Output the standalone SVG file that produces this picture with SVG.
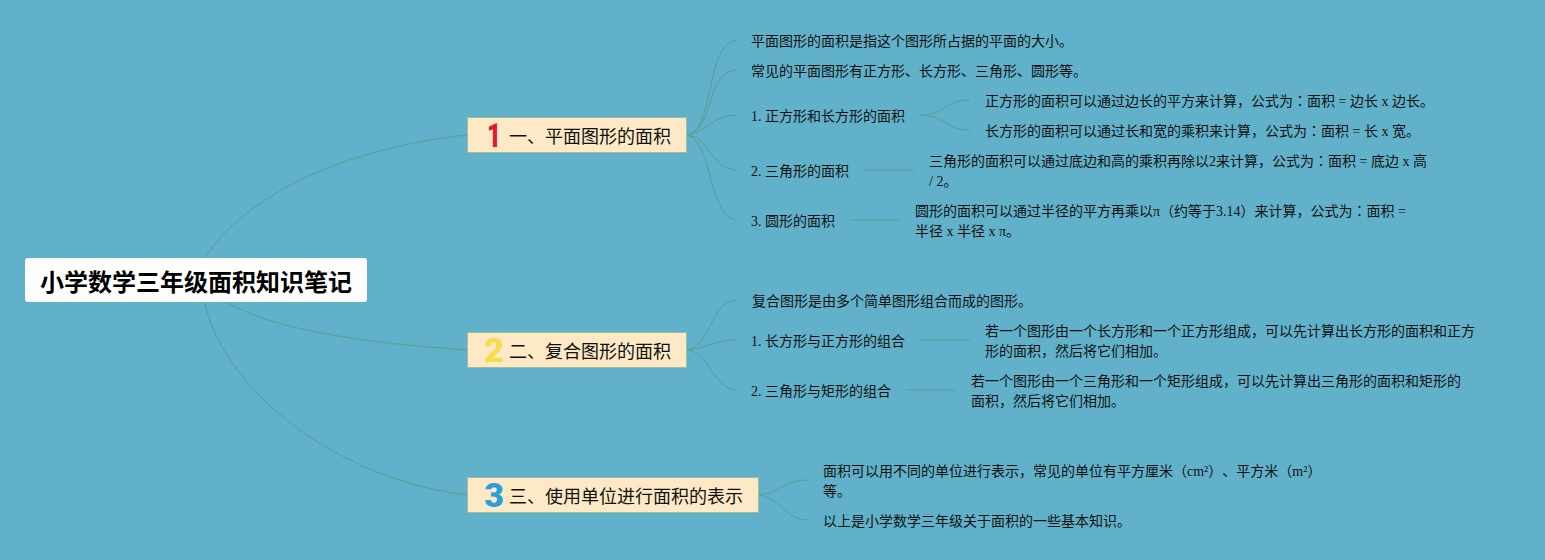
<svg xmlns="http://www.w3.org/2000/svg" width="1545" height="560" viewBox="0 0 1545 560">
<style>
text{font-family:"Liberation Serif","Noto Sans CJK SC",serif;font-size:14px;fill:#111;text-spacing-trim:space-all}
.k{font-family:"Noto Sans CJK TC",sans-serif}
.c path{fill:none;stroke:#5a9f92;stroke-width:1}
.t{fill:#fde9c5;stroke:#9dbd9c;stroke-width:1}
.tt{font-family:"Noto Sans CJK SC",sans-serif;font-size:18px;fill:#111}
.d{font-family:"Roboto",sans-serif;font-size:34px;font-weight:900;text-anchor:middle}
.root{font-family:"Noto Sans CJK SC",sans-serif;font-size:24px;font-weight:700;fill:#000}
</style>
<rect width="1545" height="560" fill="#60b1c9"/>
<g class="c" id="connectors">
<path d="M205 258C245 195 345 148 467 135"/>
<path d="M228 303C275 330 365 343 467 350"/>
<path d="M205 303C222 385 330 478 467 495"/>
<path d="M687 135C715 130 705 45 736 40"/>
<path d="M687 135C715 130 705 72 736 70"/>
<path d="M687 135C705 133 712 116 736 115"/>
<path d="M687 135C710 137 710 168 736 170"/>
<path d="M687 135C712 140 708 215 736 220"/>
<path d="M920 115C945 115 945 100 970 100"/>
<path d="M920 115C945 115 945 130 970 130"/>
<path d="M864 170H914"/>
<path d="M850 220H900"/>
<path d="M687 350C712 345 710 302 736 300"/>
<path d="M687 350C705 349 715 340 736 340"/>
<path d="M687 350C710 352 712 388 736 390"/>
<path d="M920 340H970"/>
<path d="M906 390H956"/>
<path d="M758 495C780 493 785 480 808 480"/>
<path d="M758 495C780 497 785 520 808 520"/>
</g>
<g id="root"><rect x="25" y="258" width="342" height="44" rx="3" fill="#fff"/><text class="root" x="40" y="291">小学数学三年级面积知识笔记</text></g>
<g id="t1"><rect class="t" x="467.500" y="117.500" width="219" height="35"/><text class="d" transform="translate(494 147) scale(.72 1)" style="fill:#e4182b">1</text><text class="tt" x="509" y="143">一、平面图形的面积</text></g>
<g id="t2"><rect class="t" x="467.500" y="332.500" width="219" height="35"/><text class="d" x="494" y="362" style="fill:#f5dc4b">2</text><text class="tt" x="509" y="358">二、复合图形的面积</text></g>
<g id="t3"><rect class="t" x="467.500" y="477.500" width="291" height="35"/><text class="d" x="494" y="507" style="fill:#2a9fdc">3</text><text class="tt" x="509" y="503">三、使用单位进行面积的表示</text></g>
<g id="n1"><text x="751" y="46">平面图形的面积是指这个图形所占据的平面的大小。</text></g>
<g id="n2"><text x="751" y="76">常见的平面图形有正方形、长方形、三角形、圆形等。</text></g>
<g id="n3"><text x="751" y="121">1. 正方形和长方形的面积</text></g>
<g id="n3a"><text x="985" y="106">正方形的面积可以通过边长的平方来计算，公式为<tspan class="k">：</tspan>面积 = 边长 x 边长。</text></g>
<g id="n3b"><text x="985" y="136">长方形的面积可以通过长和宽的乘积来计算，公式为<tspan class="k">：</tspan>面积 = 长 x 宽。</text></g>
<g id="n4"><text x="751" y="176">2. 三角形的面积</text></g>
<g id="n4a"><text x="929" y="166">三角形的面积可以通过底边和高的乘积再除以2来计算，公式为<tspan class="k">：</tspan>面积 = 底边 x 高</text><text x="929" y="186">/ 2。</text></g>
<g id="n5"><text x="751" y="226">3. 圆形的面积</text></g>
<g id="n5a"><text x="915" y="216">圆形的面积可以通过半径的平方再乘以π（约等于3.14）来计算，公式为<tspan class="k">：</tspan>面积 =</text><text x="915" y="236">半径 x 半径 x π。</text></g>
<g id="n6"><text x="752" y="306">复合图形是由多个简单图形组合而成的图形。</text></g>
<g id="n7"><text x="751" y="346">1. 长方形与正方形的组合</text></g>
<g id="n7a"><text x="985" y="336">若一个图形由一个长方形和一个正方形组成，可以先计算出长方形的面积和正方</text><text x="985" y="356">形的面积，然后将它们相加。</text></g>
<g id="n8"><text x="751" y="396">2. 三角形与矩形的组合</text></g>
<g id="n8a"><text x="971" y="386">若一个图形由一个三角形和一个矩形组成，可以先计算出三角形的面积和矩形的</text><text x="971" y="406">面积，然后将它们相加。</text></g>
<g id="n9"><text x="823" y="476">面积可以用不同的单位进行表示，常见的单位有平方厘米（cm²）、平方米（m²）</text><text x="823" y="496">等。</text></g>
<g id="n10"><text x="823" y="526">以上是小学数学三年级关于面积的一些基本知识。</text></g>
</svg>
